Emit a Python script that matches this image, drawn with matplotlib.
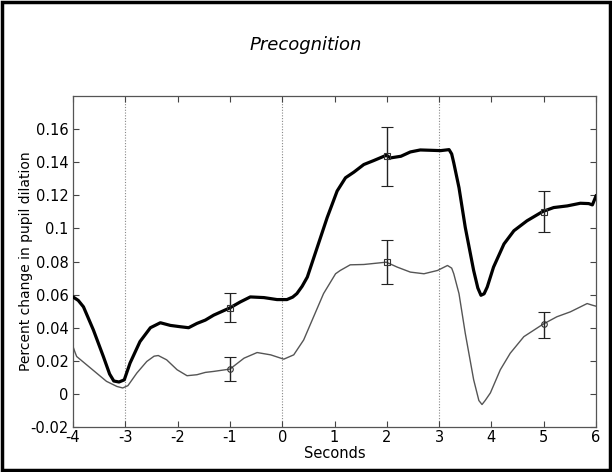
import matplotlib
matplotlib.use("Agg")
import matplotlib.pyplot as plt
from matplotlib.patches import Rectangle

# ---- data ----
x_thick = [-4.0, -3.90, -3.80, -3.61, -3.42, -3.30, -3.22, -3.12, -3.02, -2.91, -2.72, -2.52,
           -2.33, -2.14, -1.95, -1.79, -1.63, -1.47, -1.31, -1.0, -0.80, -0.61, -0.35, -0.10,
           0.09, 0.20, 0.28, 0.38, 0.48, 0.67, 0.86, 0.96, 1.05, 1.21, 1.37, 1.56, 1.75,
           1.99, 2.07, 2.27, 2.45, 2.64, 2.84, 3.03, 3.19, 3.24, 3.28, 3.38, 3.50, 3.66,
           3.74, 3.80, 3.86, 3.92, 4.04, 4.24, 4.43, 4.68, 4.98, 5.19, 5.45, 5.70, 5.86,
           5.93, 6.0]
y_thick = [0.0586, 0.0565, 0.0526, 0.0386, 0.0226, 0.012, 0.0078, 0.0072, 0.0085, 0.0186,
           0.0316, 0.040, 0.043, 0.0414, 0.0406, 0.040, 0.0426, 0.0446, 0.0476, 0.052,
           0.0556, 0.0586, 0.0582, 0.057, 0.057, 0.0585, 0.0606, 0.065, 0.0706, 0.0886,
           0.1066, 0.1150, 0.1226, 0.1306, 0.134, 0.1386, 0.141, 0.1442, 0.1426, 0.1436,
           0.1462, 0.1474, 0.1472, 0.147, 0.1476, 0.1450, 0.1396, 0.1246, 0.1006, 0.0746,
           0.064, 0.0596, 0.0605, 0.0646, 0.0766, 0.0906, 0.0986, 0.1046, 0.1102, 0.1126,
           0.1136, 0.1152, 0.115, 0.1142, 0.1196]

x_thin = [-4.0, -3.96, -3.93, -3.74, -3.55, -3.36, -3.16, -3.05, -2.95, -2.78, -2.59, -2.45,
          -2.37, -2.21, -2.01, -1.82, -1.63, -1.47, -1.31, -1.0, -0.73, -0.48, -0.22, 0.03,
          0.22, 0.41, 0.60, 0.79, 1.02, 1.11, 1.30, 1.56, 1.99, 2.20, 2.45, 2.71, 2.97,
          3.16, 3.24, 3.28, 3.38, 3.50, 3.66, 3.76, 3.82, 3.88, 3.98, 4.17, 4.36, 4.62,
          4.98, 5.25, 5.51, 5.83, 5.93, 6.0]
y_thin = [0.0286, 0.025, 0.0226, 0.0176, 0.0126, 0.0076, 0.0045, 0.0036, 0.0050, 0.0126,
          0.0196, 0.0228, 0.0232, 0.0206, 0.0146, 0.011, 0.0116, 0.013, 0.0136, 0.015,
          0.0216, 0.025, 0.0236, 0.021, 0.0236, 0.0326, 0.0466, 0.0606, 0.0726, 0.0746,
          0.078, 0.0782, 0.0796, 0.0766, 0.0736, 0.0726, 0.0746, 0.0776, 0.0760, 0.0726,
          0.0606, 0.0366, 0.0086, -0.004, -0.0064, -0.004, 0.0006, 0.0146, 0.0246, 0.0346,
          0.042, 0.0466, 0.0496, 0.0546, 0.0536, 0.053]

err_x = [-1, 2, 5]
thick_err_y = [0.052, 0.144, 0.110]
thick_err_lo = [0.0436, 0.1258, 0.0976]
thick_err_hi = [0.061, 0.161, 0.1226]
thin_err_y = [0.015, 0.0796, 0.042]
thin_err_lo = [0.0076, 0.0662, 0.0336]
thin_err_hi = [0.0222, 0.0932, 0.0496]
thin_markers = ['o', 's', 'o']

vlines_x = [-3, 0, 3]
xticks = [-4, -3, -2, -1, 0, 1, 2, 3, 4, 5, 6]
yticks = [-0.02, 0, 0.02, 0.04, 0.06, 0.08, 0.1, 0.12, 0.14, 0.16]
ytick_labels = ['-0.02', '0', '0.02', '0.04', '0.06', '0.08', '0.1', '0.12', '0.14', '0.16']

title = "Precognition"
xlabel = "Seconds"
ylabel = "Percent change in pupil dilation"

# ---- figure ----
plt.rcParams['font.family'] = ['DejaVu Sans']

fig = plt.figure(figsize=(6.12, 4.72), dpi=100)
ax = fig.add_axes([0.1193, 0.0953, 0.8546, 0.7013])

for vx in vlines_x:
    ax.axvline(vx, color='#888888', lw=0.8, ls=(0, (1, 1.5)), zorder=1)

ax.plot(x_thin, y_thin, color='#555555', lw=1.0, zorder=2)
ax.plot(x_thick, y_thick, color='black', lw=2.3, zorder=3)

for xi, yc, lo, hi in zip(err_x, thick_err_y, thick_err_lo, thick_err_hi):
    ax.errorbar([xi], [yc], yerr=[[yc - lo], [hi - yc]], fmt='s', mfc='none', mec='#333333',
                ms=4, mew=0.8, ecolor='#222222', elinewidth=1.0, capsize=4, capthick=1.0, zorder=4)
for xi, yc, lo, hi, m in zip(err_x, thin_err_y, thin_err_lo, thin_err_hi, thin_markers):
    ax.errorbar([xi], [yc], yerr=[[yc - lo], [hi - yc]], fmt=m, mfc='none', mec='#333333',
                ms=4, mew=0.8, ecolor='#222222', elinewidth=1.0, capsize=4, capthick=1.0, zorder=4)

ax.set_xlim(-4, 6)
ax.set_ylim(-0.02, 0.18)
ax.set_xticks(xticks)
ax.set_xticklabels([str(t) for t in xticks])
ax.set_yticks(yticks)
ax.set_yticklabels(ytick_labels)
ax.tick_params(direction='in', top=True, right=True, length=4, width=0.8,
               labelsize=10.5, color='#444444', pad=3)
ax.tick_params(axis='x', pad=2)
for s in ax.spines.values():
    s.set_color('#555555')
    s.set_linewidth(0.9)

ax.set_xlabel(xlabel, fontsize=10.5, labelpad=1)
ax.set_ylabel(ylabel, fontsize=10)
ax.yaxis.set_label_coords(-0.077, 0.5)
fig.text(0.5, 0.905, title, ha='center', va='center', fontsize=13, style='italic')

fig.patches.append(Rectangle((0.004, 0.005), 0.992, 0.99, transform=fig.transFigure,
                             fill=False, edgecolor='black', lw=2.5))

fig.savefig('out.png', dpi=100)
